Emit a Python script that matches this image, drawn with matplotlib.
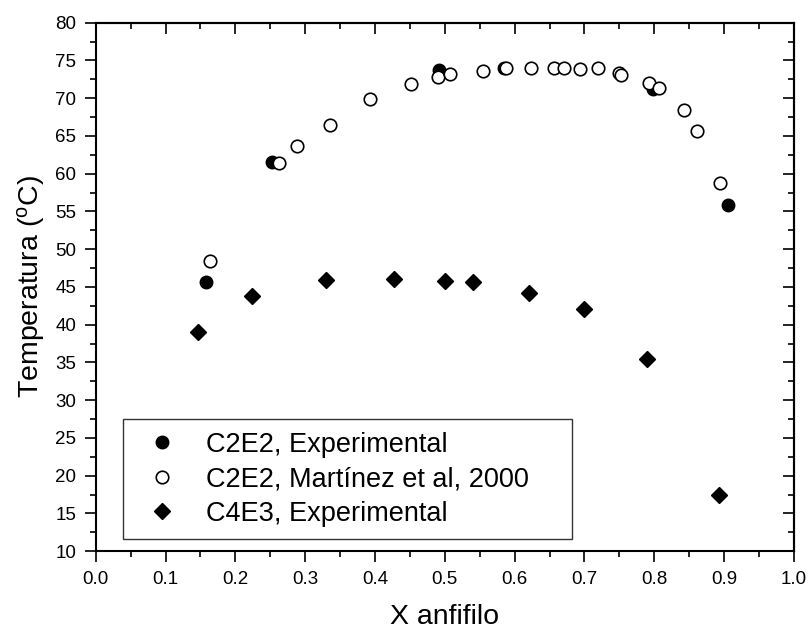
import matplotlib
matplotlib.use("Agg")
import matplotlib.pyplot as plt
from matplotlib.ticker import MultipleLocator

plt.rcParams['font.family'] = ['Liberation Sans', 'DejaVu Sans']
plt.rcParams['mathtext.fontset'] = 'custom'
plt.rcParams['mathtext.rm'] = 'Liberation Sans'

# C2E2, experimental cloud points
c2e2_exp_x = [0.158, 0.253, 0.492, 0.585, 0.798, 0.905]
c2e2_exp_t = [45.7, 61.6, 73.7, 74.0, 71.2, 55.9]

# C2E2, literature data (Martínez et al, 2000)
c2e2_lit_x = [0.164, 0.263, 0.288, 0.336, 0.393, 0.451, 0.490, 0.507, 0.555,
              0.587, 0.624, 0.656, 0.671, 0.694, 0.720, 0.749, 0.753, 0.792,
              0.807, 0.843, 0.861, 0.894]
c2e2_lit_t = [48.5, 61.4, 63.7, 66.5, 69.9, 71.9, 72.8, 73.2, 73.6,
              74.0, 74.0, 74.0, 74.0, 73.8, 74.0, 73.3, 73.1, 72.0,
              71.4, 68.5, 65.7, 58.8]

# C4E3, experimental cloud points
c4e3_exp_x = [0.147, 0.224, 0.330, 0.427, 0.500, 0.541, 0.620, 0.699, 0.790, 0.893]
c4e3_exp_t = [39.0, 43.8, 45.9, 46.1, 45.8, 45.6, 44.2, 42.1, 35.4, 17.4]

x_ticks = [0.0, 0.1, 0.2, 0.3, 0.4, 0.5, 0.6, 0.7, 0.8, 0.9, 1.0]
y_ticks = [10, 15, 20, 25, 30, 35, 40, 45, 50, 55, 60, 65, 70, 75, 80]

fig = plt.figure(figsize=(8.11, 6.30), dpi=100)
ax = fig.add_axes([0.118, 0.125, 0.861, 0.839])

ax.plot(c2e2_exp_x, c2e2_exp_t, 'o', ls='none', ms=9, mfc='black', mec='black',
        label='C2E2, Experimental', zorder=3)
ax.plot(c2e2_lit_x, c2e2_lit_t, 'o', ls='none', ms=9, mfc='white', mec='black',
        mew=1.2, label='C2E2, Martínez et al, 2000', zorder=4)
ax.plot(c4e3_exp_x, c4e3_exp_t, 'D', ls='none', ms=8, mfc='black', mec='black',
        label='C4E3, Experimental', zorder=3)

ax.set_xlim(0.0, 1.0)
ax.set_ylim(10, 80)
ax.set_xticks(x_ticks)
ax.set_xticklabels([f'{v:.1f}' for v in x_ticks])
ax.set_yticks(y_ticks)
ax.xaxis.set_minor_locator(MultipleLocator(0.05))
ax.yaxis.set_minor_locator(MultipleLocator(2.5))

ax.tick_params(which='both', direction='out', top=False, right=False,
               labelsize=13.5, width=1.2, pad=6)
ax.tick_params(which='major', length=8)
ax.tick_params(which='minor', length=4)

# inward ticks mirrored on the top and right spines
sec_x = ax.secondary_xaxis('top')
sec_x.set_xticks(x_ticks)
sec_x.xaxis.set_minor_locator(MultipleLocator(0.05))
sec_x.tick_params(which='both', direction='in', labeltop=False, width=1.2)
sec_x.tick_params(which='major', length=8)
sec_x.tick_params(which='minor', length=4)
sec_y = ax.secondary_yaxis('right')
sec_y.set_yticks(y_ticks)
sec_y.yaxis.set_minor_locator(MultipleLocator(2.5))
sec_y.tick_params(which='both', direction='in', labelright=False, width=1.2)
sec_y.tick_params(which='major', length=8)
sec_y.tick_params(which='minor', length=4)

for sp in ax.spines.values():
    sp.set_linewidth(1.5)
sec_x.spines['top'].set_linewidth(1.5)
sec_y.spines['right'].set_linewidth(1.5)

ax.set_xlabel('X anfifilo', fontsize=20.5, labelpad=12)
ax.set_ylabel(r'Temperatura ($\mathregular{^{o}}$C)', fontsize=20.5, labelpad=6)

leg = ax.legend(loc='lower left', bbox_to_anchor=(0.0387, 0.023, 0.644, 0.2),
                mode='expand', borderaxespad=0,
                fontsize=19.5, frameon=True, fancybox=False, edgecolor='black',
                handletextpad=0.62, labelspacing=0.32, borderpad=0.45,
                handlelength=2.0)
leg.get_frame().set_linewidth(1.0)

fig.savefig('out.png', dpi=100)
